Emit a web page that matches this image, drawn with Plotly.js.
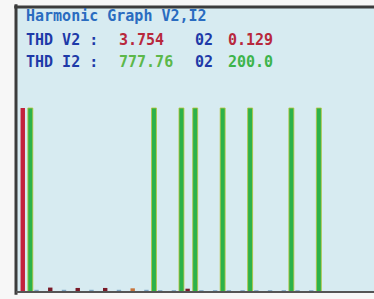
<!DOCTYPE html>
<html>
<head>
<meta charset="utf-8">
<script src="https://cdn.plot.ly/plotly-3.0.1.min.js"></script>
<style>html,body{margin:0;padding:0;background:#f7f7f7;}#chart{width:374px;height:299px;}</style>
</head>
<body>
<div id="chart"></div>
<script>
// Harmonic orders
const harmonics = [1,2,3,4,5,6,7,8,9,10,11,12,13,14,15,16,17,18,19,20,21,22];
// Voltage harmonic content (% of fundamental), V2
const voltageV2 = [100,1.2,2.4,1.2,2.2,1.2,2.2,1.2,2.0,1.2,1.0,1.0,1.8,1.0,1.0,1.0,1.0,1.0,1.0,1.0,1.0,1.0];
// Current harmonic content (% of fundamental), I2
const currentI2 = [100,0,0,0,0,0,0,0,0,100,0,100,100,0,100,0,100,0,0,100,0,100];
// Header readouts
const titleText = "Harmonic Graph V2,I2";
const rowLabels = ["THD V2 :", "THD I2 :"];
const thdValues = ["3.754", "777.76"];
const orderLabels = ["02", "02"];
const orderValues = ["0.129", "200.0"];

const W = 374, H = 299, L = 16, T = 7, B = 7, R = 0;
const pw = W - L - R, ph = H - T - B;
const px = x => (x - L) / pw;
const py = y => (H - B - y) / ph;

const vColors = voltageV2.map((v, i) => v >= 50 ? '#c3213c' : (v >= 1.7 && i % 2 === 0 ? (i === 8 ? '#c8743a' : '#7a1a28') : '#7fa6c4'));

const traces = [
  {type:'bar', x: harmonics, y: voltageV2, width: 0.32, offset: -0.435,
   marker:{color: vColors, line:{width:0}}, hoverinfo:'skip'},
  {type:'bar', x: harmonics, y: currentI2, width: 0.36, offset: 0.095,
   marker:{color:'#2cb24a', line:{color:'#b9c43c', width:0.8}}, hoverinfo:'skip'}
];

const font = (c, s) => ({family:'DejaVu Sans Mono, monospace', size:s||15, color:c, weight:'bold'});
const ann = (text, x, y, c, s) => ({text, x: px(x), y: py(y), xref:'paper', yref:'paper',
  xanchor:'left', yanchor:'middle', showarrow:false, font: font(c, s)});

const annotations = [
  ann(titleText, 24, 16, '#2a6cc0', 15),
  ann(rowLabels[0], 24, 40, '#1e3aa8'),
  ann(thdValues[0], 117, 40, '#b8283c'),
  ann(orderLabels[0], 193, 40, '#1e3aa8'),
  ann(orderValues[0], 226, 40, '#b8283c'),
  ann(rowLabels[1], 24, 62, '#1e3aa8'),
  ann(thdValues[1], 117, 62, '#5cb84a'),
  ann(orderLabels[1], 193, 62, '#1e3aa8'),
  ann(orderValues[1], 226, 62, '#3cb44a')
];

const layout = {
  width: W, height: H,
  margin:{l:L, r:R, t:T, b:B, pad:0},
  paper_bgcolor:'#f7f7f7', plot_bgcolor:'#d7ebf1',
  showlegend:false,
  xaxis:{range:[0.232, 26.29], showgrid:false, zeroline:false, showticklabels:false, showline:false, ticks:''},
  yaxis:{range:[0, 154.9], showgrid:false, zeroline:false, showticklabels:false, showline:false, ticks:''},
  annotations,
  shapes:[
    {type:'line', xref:'paper', yref:'paper', x0:0, x1:0, y0:-0.01, y1:1.01, line:{color:'#3c3c3c', width:3}},
    {type:'line', xref:'paper', yref:'paper', x0:-0.005, x1:1, y0:1, y1:1, line:{color:'#3c3c3c', width:3}},
    {type:'line', xref:'paper', yref:'paper', x0:0, x1:1, y0:0, y1:0, line:{color:'#555555', width:2}}
  ]
};

Plotly.newPlot('chart', traces, layout, {staticPlot:true, displayModeBar:false});
</script>
</body>
</html>
